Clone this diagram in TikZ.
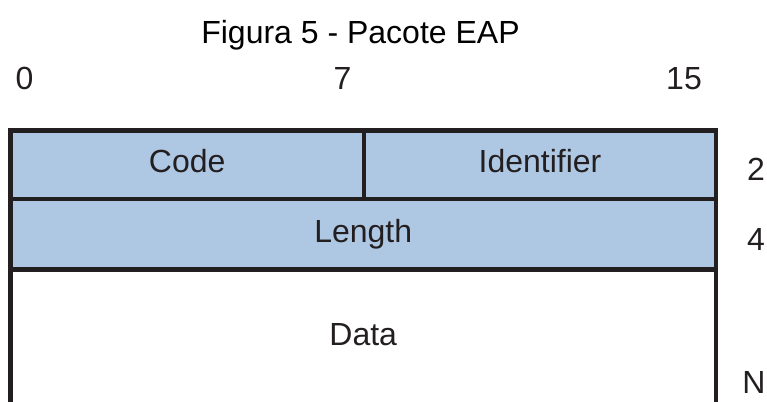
\documentclass[tikz,border=0pt]{standalone}
\usepackage{fontspec}
\setmainfont{Liberation Sans}
\usepackage{tikz}
\usetikzlibrary{positioning}
\definecolor{fieldblue}{RGB}{174,200,228}
\definecolor{ink}{RGB}{35,31,32}

\begin{document}
\begin{tikzpicture}[x=0.75pt, y=-0.75pt,
    field/.style={draw=ink, line width=3.4pt, fill=fieldblue, inner sep=0pt, outer sep=0pt, anchor=north west,
        minimum height=51.4pt, text height=17pt, text depth=5pt, font=\fontsize{24}{28}\selectfont, text=ink},
    datafield/.style={field, draw=none, fill=none, minimum height=101.25pt},
    bitnum/.style={anchor=base, inner sep=0pt, font=\fontsize{24}{28}\selectfont, text=ink}]
    \useasboundingbox (0,0) rectangle (767,401);
    % Title
    \node[anchor=base, inner sep=0pt, font=\fontsize{24}{28}\selectfont] (title) at (360.5,43) {Figura 5 - Pacote EAP};
    % Bit positions
    \node[bitnum] (b0) at (24.5,89) {0};
    \node[bitnum] (b7) at (342.5,89) {7};
    \node[bitnum] (b15) at (684,89) {15};
    % Packet fields
    \node[field, minimum width=265.1pt] (code) at (10.5,130.5) {Code};
    \node[field, minimum width=264pt] (ident) at (code.north east) {Identifier};
    \node[field, minimum width=529.1pt, minimum height=52.9pt] (len) at (code.south west) {Length};
    \node[datafield, minimum width=529.1pt] (data) at (len.south west) {Data};
    \draw[ink, line width=3.4pt] (data.south west) -- (len.south west);
    \draw[ink, line width=3.4pt] (data.south east) -- (len.south east);
    % Byte offsets
    \node[bitnum] (o2) at (756,180) {2};
    \node[bitnum] (o4) at (756,250) {4};
    \node[bitnum] (oN) at (754,393) {N};
\end{tikzpicture}
\end{document}
